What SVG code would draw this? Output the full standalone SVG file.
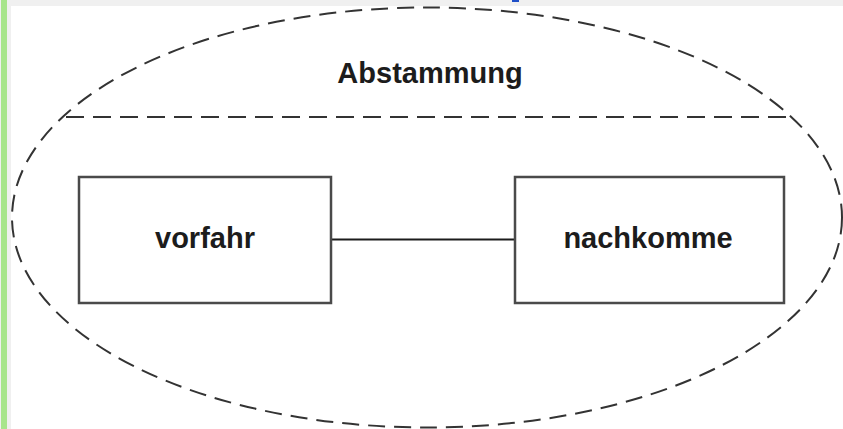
<svg xmlns="http://www.w3.org/2000/svg" width="843" height="429" viewBox="0 0 843 429">
<style>
.lbl{font-family:"Liberation Sans",Arial,sans-serif;font-weight:bold;font-size:29px;fill:#1c1c1c;text-anchor:middle}
.box{fill:#fff;stroke:#4a4a4a;stroke-width:2.5}
.dash{fill:none;stroke:#333;stroke-width:2}
.conn{fill:none;stroke:#1c1c1c;stroke-width:2}
</style>
<rect x="0" y="0" width="843" height="429" fill="#fff"/>
<rect x="0" y="0" width="843" height="6" fill="#f0f0f0"/>
<rect x="0" y="0" width="11" height="429" fill="#f0f0f0"/>
<rect x="1" y="0" width="6" height="429" fill="#a8e58c"/>
<rect x="512" y="0" width="7" height="2" fill="#1f4fc8"/>
<g id="abstammung">
<ellipse class="dash" cx="427" cy="217.5" rx="415" ry="210" stroke-dasharray="17 9"/>
<line class="dash" x1="66" y1="117" x2="793" y2="117" stroke-dasharray="18 9"/>
<text class="lbl" x="430" y="83">Abstammung</text>
</g>
<g id="connectors">
<line class="conn" x1="331" y1="239.5" x2="515" y2="239.5"/>
</g>
<g id="vorfahr">
<rect class="box" x="79" y="177" width="252" height="126"/>
<text class="lbl" x="205" y="248">vorfahr</text>
</g>
<g id="nachkomme">
<rect class="box" x="515" y="177" width="269" height="126"/>
<text class="lbl" x="648" y="248">nachkomme</text>
</g>
</svg>
